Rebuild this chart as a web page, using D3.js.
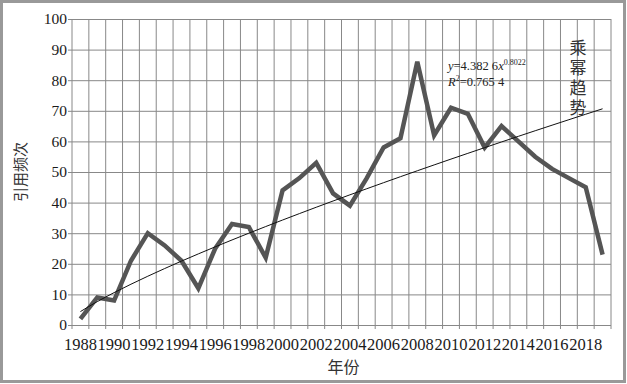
<!DOCTYPE html>
<html><head><meta charset="utf-8">
<script src="https://cdn.jsdelivr.net/npm/d3@7"></script>
<style>body{margin:0;background:#fff}svg{display:block}
.serif{font-family:"Liberation Serif","DejaVu Serif",serif}
.cjk{font-family:"Noto Sans CJK SC",sans-serif}</style>
</head><body>
<svg id="c" width="627" height="384"></svg>
<script>
const years = d3.range(1988, 2020).map(String);
const citations = [2, 9, 8, 21, 30, 26, 21, 12, 25, 33, 32, 22, 44, 48, 53, 43, 39, 48, 58, 61, 86, 62, 71, 69, 58, 65, 60, 55, 51, 48, 45, 23];
const yTicks = [0, 10, 20, 30, 40, 50, 60, 70, 80, 90, 100];
const xTickLabels = years.filter((d, i) => i % 2 === 0);
const trendCoef = 4.3826, trendExp = 0.8022;
const eqText = {a: "4.382 6", b: "0.8022", r2: "0.765 4"};
const trendLabel = "乘幂趋势";

const svg = d3.select("#c");
const m = {l: 72, r: 611, t: 19, b: 325};
const x = d3.scaleBand().domain(years).range([m.l, m.r]);
const y = d3.scaleLinear().domain([0, 100]).range([m.b, m.t]);

svg.append("rect").attr("x", 1.5).attr("y", 1.5).attr("width", 623).attr("height", 380)
  .attr("fill", "#fff").attr("stroke", "#999").attr("stroke-width", 3);

// horizontal gridlines + y axis
const ya = d3.axisLeft(y).tickValues(yTicks).tickSize(-(m.r - m.l)).tickSizeOuter(0).tickPadding(5);
const gy = svg.append("g").attr("transform", `translate(${m.l},0)`).call(ya);
gy.attr("font-family", null).attr("font-size", null);
gy.select(".domain").remove();
gy.selectAll(".tick line").attr("stroke", "#888").attr("x1", -4);
gy.selectAll(".tick text").attr("class", "serif").style("font-size", "15.5px").attr("fill", "#1a1a1a");

// vertical gridlines at category boundaries
const bounds = years.map(d => x(d)).concat([m.r]);
svg.append("g").selectAll("line").data(bounds).join("line")
  .attr("x1", d => d).attr("x2", d => d).attr("y1", m.t).attr("y2", m.b + 4)
  .attr("stroke", "#888").attr("stroke-width", 1);

// x labels
const xa = d3.axisBottom(x).tickValues(xTickLabels).tickSize(0).tickPadding(13);
const gx = svg.append("g").attr("transform", `translate(0,${m.b})`).call(xa);
gx.attr("font-family", null).attr("font-size", null);
gx.select(".domain").remove();
gx.selectAll(".tick text").attr("class", "serif").style("font-size", "16.5px").attr("fill", "#1a1a1a");

const cx = d => x(d) + x.bandwidth() / 2;

// data line
svg.append("path").datum(citations)
  .attr("d", d3.line().x((d, i) => cx(years[i])).y(d => y(d)))
  .attr("fill", "none").attr("stroke", "#555").attr("stroke-width", 4.5).attr("stroke-linejoin", "miter");

// power trend line
svg.append("path").datum(years)
  .attr("d", d3.line().x(d => cx(d)).y((d, i) => y(trendCoef * Math.pow(i + 1, trendExp))).curve(d3.curveMonotoneX))
  .attr("fill", "none").attr("stroke", "#111").attr("stroke-width", 1);

// equation
const eq = svg.append("text").attr("class", "serif").attr("x", 448).attr("y", 70).style("font-size", "12.5px").attr("fill", "#222");
eq.append("tspan").attr("font-style", "italic").text("y");
eq.append("tspan").text("=" + eqText.a);
eq.append("tspan").attr("font-style", "italic").text("x");
eq.append("tspan").style("font-size", "8px").attr("dy", -5).text(eqText.b);
const r2 = svg.append("text").attr("class", "serif").attr("x", 448).attr("y", 86).style("font-size", "12.5px").attr("fill", "#222");
r2.append("tspan").attr("font-style", "italic").text("R");
r2.append("tspan").style("font-size", "8px").attr("dy", -5).text("2");
r2.append("tspan").attr("dy", 5).text("=" + eqText.r2);

// vertical trend label (single text, vertical writing mode)
svg.append("text").attr("class", "cjk").attr("x", 578).attr("y", 39)
  .style("writing-mode", "vertical-rl").style("font-size", "17px").style("letter-spacing", "3px")
  .attr("fill", "#333").text(trendLabel);

// axis titles
svg.append("text").attr("class", "cjk").attr("transform", `translate(26,${(m.t + m.b) / 2}) rotate(-90)`)
  .attr("text-anchor", "middle").style("font-size", "15px").attr("fill", "#333").text("引用频次");
svg.append("text").attr("class", "cjk").attr("x", (m.l + m.r) / 2 + 2).attr("y", 373).attr("text-anchor", "middle")
  .style("font-size", "16px").attr("fill", "#333").text("年份");
</script>
</body></html>
